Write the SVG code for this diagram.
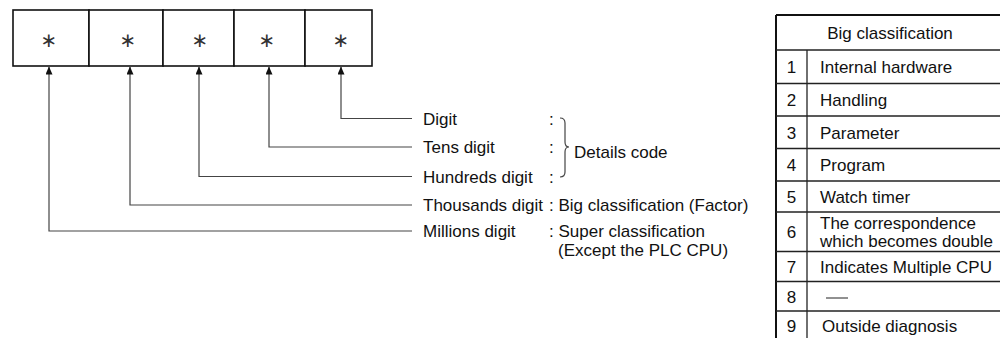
<svg xmlns="http://www.w3.org/2000/svg" width="1000" height="338" viewBox="0 0 1000 338">
<style>
  .t { font-family: "Liberation Sans", Arial, sans-serif; font-size: 17px; fill: #111; }
  .c { text-anchor: middle; }
  .ast { font-family: "DejaVu Sans", sans-serif; font-size: 20px; fill: #333; text-anchor: middle; }
  .box { fill: #fff; stroke: #111; stroke-width: 1.6; }
  .conn { fill: none; stroke: #444; stroke-width: 1.2; }
  .tl { stroke: #222; stroke-width: 1.3; fill: none; }
  .tlb { stroke: #111; stroke-width: 2; fill: none; }
</style>
<defs>
  <marker id="arr" viewBox="0 0 8 7" refX="8" refY="3.5" markerWidth="8" markerHeight="7" markerUnits="userSpaceOnUse" orient="auto">
    <path d="M0,0 L8,3.5 L0,7 Z" fill="#111"/>
  </marker>
</defs>
<rect width="1000" height="338" fill="#fff"/>

<g id="digit-boxes">
  <g id="box-millions"><rect class="box" x="13" y="10" width="76" height="56"/><text class="ast" x="49" y="47">∗</text></g>
  <g id="box-thousands"><rect class="box" x="89" y="10" width="74" height="56"/><text class="ast" x="128" y="47">∗</text></g>
  <g id="box-hundreds"><rect class="box" x="163" y="10" width="71" height="56"/><text class="ast" x="200" y="47">∗</text></g>
  <g id="box-tens"><rect class="box" x="234" y="10" width="71" height="56"/><text class="ast" x="267" y="47">∗</text></g>
  <g id="box-digit"><rect class="box" x="305" y="10" width="67" height="56"/><text class="ast" x="341" y="47">∗</text></g>
</g>

<g id="connectors">
  <path class="conn" d="M412,118.5 H341 V66.5" marker-end="url(#arr)"/>
  <path class="conn" d="M412,147 H269 V66.5" marker-end="url(#arr)"/>
  <path class="conn" d="M412,176.5 H199 V66.5" marker-end="url(#arr)"/>
  <path class="conn" d="M412,205 H130 V66.5" marker-end="url(#arr)"/>
  <path class="conn" d="M412,231 H49 V66.5" marker-end="url(#arr)"/>
  <path class="conn" d="M560,118 Q565,118 565,123 L565,142 Q565,147 569,147 Q565,147 565,152 L565,172 Q565,177 560,177" stroke-width="1"/>
</g>

<g id="label-digit"><text class="t" x="423" y="125">Digit</text><text class="t" x="549" y="125">:</text></g>
<g id="label-tens"><text class="t" x="423" y="153">Tens digit</text><text class="t" x="549" y="153">:</text></g>
<g id="label-hundreds"><text class="t" x="423" y="183">Hundreds digit</text><text class="t" x="549" y="183">:</text></g>
<g id="label-details"><text class="t" x="574" y="158">Details code</text></g>
<g id="label-thousands"><text class="t" x="423" y="211">Thousands digit</text><text class="t" x="549" y="211">: Big classification (Factor)</text></g>
<g id="label-millions"><text class="t" x="423" y="237">Millions digit</text><text class="t" x="549" y="237">: Super classification</text><text class="t" x="558" y="256">(Except the PLC CPU)</text></g>

<g id="table">
  <line class="tlb" x1="776" y1="15" x2="1000" y2="15"/>
  <line class="tlb" x1="776" y1="15" x2="776" y2="340"/>
  <line class="tl" x1="807" y1="50" x2="807" y2="340"/>
  <line class="tl" x1="776" y1="50" x2="1000" y2="50"/>
  <line class="tl" x1="776" y1="83.5" x2="1000" y2="83.5"/>
  <line class="tl" x1="776" y1="116" x2="1000" y2="116"/>
  <line class="tl" x1="776" y1="148.5" x2="1000" y2="148.5"/>
  <line class="tl" x1="776" y1="181" x2="1000" y2="181"/>
  <line class="tl" x1="776" y1="212" x2="1000" y2="212"/>
  <line class="tl" x1="776" y1="251.5" x2="1000" y2="251.5"/>
  <line class="tl" x1="776" y1="281.5" x2="1000" y2="281.5"/>
  <line class="tl" x1="776" y1="311" x2="1000" y2="311"/>
  <g id="table-header"><text class="t c" x="890" y="39">Big classification</text></g>
  <g id="row-1"><text class="t c" x="791.5" y="73">1</text><text class="t" x="820" y="73">Internal hardware</text></g>
  <g id="row-2"><text class="t c" x="791.5" y="106">2</text><text class="t" x="820" y="106">Handling</text></g>
  <g id="row-3"><text class="t c" x="791.5" y="138.5">3</text><text class="t" x="820" y="138.5">Parameter</text></g>
  <g id="row-4"><text class="t c" x="791.5" y="171">4</text><text class="t" x="820" y="171">Program</text></g>
  <g id="row-5"><text class="t c" x="791.5" y="203">5</text><text class="t" x="820" y="203">Watch timer</text></g>
  <g id="row-6"><text class="t c" x="791.5" y="238">6</text><text class="t" x="820" y="229">The correspondence</text><text class="t" x="820" y="247">which becomes double</text></g>
  <g id="row-7"><text class="t c" x="791.5" y="273">7</text><text class="t" x="820" y="273">Indicates Multiple CPU</text></g>
  <g id="row-8"><text class="t c" x="791.5" y="302.5">8</text><line x1="826" y1="298" x2="848" y2="298" stroke="#222" stroke-width="1"/></g>
  <g id="row-9"><text class="t c" x="791.5" y="332">9</text><text class="t" x="822" y="332">Outside diagnosis</text></g>
</g>
</svg>
